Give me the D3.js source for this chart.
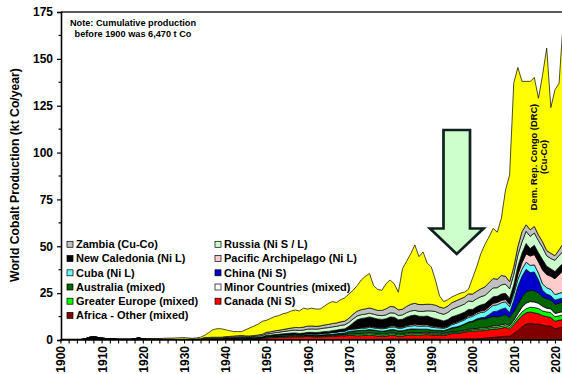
<!DOCTYPE html>
<html><head><meta charset="utf-8">
<script src="https://cdn.jsdelivr.net/npm/d3@7"></script>
<style>
html,body{margin:0;padding:0;background:#fff;}
svg{display:block;font-family:Arial,"Liberation Sans",sans-serif;}
</style></head><body>
<svg id="chart" width="562" height="374"></svg>
<script>
// World cobalt production by country / region, kt Co per year, 1900-2022
const years = d3.range(1900, 2023);

const africaOther = [
 0,0,0,0,0,0,0,0,0,0,
 0,0,0,0,0,0,0,0,0,0,
 0,0,0,0,0,0,0,0,0,0,
 0,0,0,0,0,0,0,0,0,0,
 0,0,0,0,0,0,0,0,0,0,
 .2,.2,.2,.2,.2,.2,.2,.2,.2,.2,
 .3,.3,.3,.3,.3,.3,.3,.3,.3,.3,
 .4,.4,.4,.4,.4,.4,.4,.4,.4,.4,
 .5,.5,.5,.5,.5,.5,.5,.5,.5,.5,
 .5,.5,.5,.4,.4,.5,.5,.6,.6,.7,
 .6,.7,.8,1.0,1.2,1.4,1.6,1.8,2.0,2.0,
 3.5,5.0,7.0,8.5,9.0,8.5,8.5,8.0,7.5,7.5,6.0,6.5,7.0];

const canada = [
 0,0,0,0,0,0,0,.3,.5,.6,
 .5,.4,.4,.3,.2,.2,.2,.2,.2,.2,
 .2,.2,.2,.2,.2,.2,.2,.2,.2,.2,
 .3,.3,.3,.3,.3,.3,.3,.3,.3,.3,
 .5,.5,.5,.5,.5,.4,.4,.5,.6,.8,
 .9,1.0,1.1,1.2,1.3,1.4,1.5,1.6,1.5,1.6,
 1.6,1.5,1.4,1.4,1.5,1.6,1.7,1.8,2.0,1.9,
 2.1,2.0,1.8,1.9,2.0,2.2,2.0,1.7,1.5,1.6,
 2.1,2.0,1.5,1.6,2.0,2.3,2.2,2.1,2.3,2.4,
 2.2,2.2,2.2,2.0,2.5,3.0,3.0,3.1,3.5,4.0,
 4.0,4.2,4.2,4.0,4.3,4.5,4.3,4.5,4.8,3.8,
 4.5,5.5,6.0,6.0,6.0,6.0,5.5,5.0,5.0,4.5,4.0,4.0,4.0];

const greaterEurope = [
 0,0,0,0,0,0,0,0,0,0,
 0,0,0,0,0,0,0,0,.2,.8,
 .2,.1,.1,.1,.1,.1,.1,.1,.1,.1,
 .1,.1,.1,.1,.1,.2,.2,.2,.2,.2,
 .2,.2,.2,.2,.2,.2,.2,.2,.2,.2,
 .4,.4,.4,.4,.4,.4,.4,.4,.4,.4,
 .4,.4,.4,.4,.4,.4,.4,.4,.4,.4,
 .6,.7,.8,.8,.8,.8,.8,.8,.8,.8,
 .8,.8,.8,.8,.8,.8,.8,.8,.8,.8,
 .6,.6,.6,.6,.6,.6,.6,.6,.6,.6,
 .8,.8,.9,.9,.9,1.0,1.0,1.0,1.0,1.0,
 1.3,1.8,2.0,2.2,2.5,2.8,2.8,2.5,2.5,2.6,2.4,2.4,2.5];

const minorCountries = [
 0,0,0,0,0,0,0,0,0,0,
 0,0,0,0,0,0,0,0,0,0,
 0,0,0,0,0,0,0,0,0,0,
 0,0,0,0,0,.3,.3,.3,.3,.3,
 .3,.3,.3,.3,.3,.3,.3,.3,.3,.3,
 .3,.3,.3,.3,.3,.3,.3,.3,.3,.3,
 .3,.3,.3,.3,.3,.3,.3,.3,.3,.3,
 .5,.5,.5,.5,.5,.5,.5,.5,.5,.5,
 .5,.5,.5,.5,.5,.5,.5,.5,.5,.5,
 .5,.5,.5,.5,.5,.5,.5,.5,.5,.5,
 .5,.5,.6,.6,.6,.7,.7,.8,.8,.8,
 1.2,1.8,2.5,3.0,3.0,3.0,2.8,2.5,2.0,2.0,1.8,1.8,1.8];

const australia = [
 0,0,0,0,0,0,0,0,0,0,
 0,0,0,0,0,0,0,0,0,0,
 0,0,0,0,0,0,0,0,0,0,
 0,0,0,0,0,0,0,0,0,0,
 0,0,0,0,0,0,0,0,0,0,
 .1,.1,.1,.1,.1,.1,.1,.1,.1,.1,
 .2,.2,.2,.3,.3,.3,.4,.5,.6,.8,
 1.0,1.2,1.5,1.6,1.5,1.6,1.5,1.5,1.4,1.5,
 1.5,1.6,1.5,1.4,1.6,1.7,1.8,1.8,1.6,1.5,
 1.4,1.2,1.2,1.3,1.5,1.7,2.0,2.5,3.0,3.5,
 3.8,4.5,4.8,4.8,5.0,5.0,4.8,4.8,5.0,4.5,
 4.5,5.0,5.5,6.0,6.0,6.0,5.5,5.0,5.0,4.8,4.8,5.0,5.0];

const china = [
 0,0,0,0,0,0,0,0,0,0,
 0,0,0,0,0,0,0,0,0,0,
 0,0,0,0,0,0,0,0,0,0,
 0,0,0,0,0,0,0,0,0,0,
 0,0,0,0,0,0,0,0,0,0,
 0,0,0,0,0,0,0,0,0,0,
 0,0,0,0,0,0,0,0,0,0,
 0,0,0,0,0,.1,.1,.1,.1,.1,
 .1,.1,.1,.1,.1,.1,.1,.1,.1,.1,
 .2,.2,.2,.2,.2,.3,.3,.3,.3,.3,
 .4,.5,.6,.8,1.5,2.5,3.0,3.5,3.5,2.5,
 6.0,9.5,11.0,12.0,9.5,10.0,7.0,3.5,2.5,2.2,2.2,2.2,2.2];

const cuba = [
 0,0,0,0,0,0,0,0,0,0,
 0,0,0,0,0,0,0,0,0,0,
 0,0,0,0,0,0,0,0,0,0,
 0,0,0,0,0,0,0,0,0,0,
 0,0,0,.2,.3,.3,.2,.2,.2,.2,
 .3,.3,.4,.5,.5,.6,.6,.6,.5,.5,
 .6,.6,.6,.7,.8,.8,.9,.9,1.0,1.0,
 1.0,1.0,1.0,1.1,1.1,1.2,1.2,1.2,1.3,1.3,
 1.4,1.5,1.4,1.5,1.6,1.6,1.8,1.6,1.6,1.7,
 1.5,1.4,1.3,1.2,1.2,1.6,2.0,2.2,2.2,2.5,
 2.5,2.7,2.8,2.9,3.2,3.4,3.4,3.5,3.3,3.2,
 3.5,3.8,3.8,3.8,3.8,3.8,3.6,3.4,3.4,3.4,3.0,3.0,3.0];

const pacificArchipelago = [
 0,0,0,0,0,0,0,0,0,0,
 0,0,0,0,0,0,0,0,0,0,
 0,0,0,0,0,0,0,0,0,0,
 0,0,0,0,0,0,0,0,0,0,
 0,0,0,0,0,0,0,0,0,0,
 0,0,0,0,0,0,0,0,0,0,
 .1,.1,.1,.1,.1,.1,.1,.1,.1,.1,
 .2,.3,.3,.4,.5,.5,.5,.5,.5,.5,
 .6,.6,.5,.5,.6,.7,.8,.8,.7,.7,
 .6,.6,.5,.5,.5,.6,.6,.6,.6,.7,
 .7,.8,.8,.9,1.0,1.1,1.2,1.2,1.2,1.3,
 1.5,2.5,3.5,4.5,5.0,5.5,6.0,7.5,7.0,7.0,8.5,10.0,11.5];

const newCaledonia = [
 .3,.3,.3,.3,.3,.3,.6,1.1,1.2,.8,
 .5,.4,.3,.3,.2,.2,.2,.2,.2,.2,
 .1,.1,.1,.1,.1,.1,.1,.1,.1,.1,
 .1,.1,.1,.1,.1,.2,.2,.2,.2,.2,
 .2,.2,.2,.2,.2,.2,.2,.2,.2,.2,
 .3,.3,.4,.4,.5,.5,.6,.6,.5,.6,
 .6,.7,.7,.7,.8,.8,.9,1.0,1.0,1.2,
 1.5,3.0,4.5,4.8,5.0,5.0,4.8,4.5,4.5,4.6,
 4.8,4.5,4.0,4.2,4.5,4.8,4.8,4.5,4.5,4.6,
 4.5,4.2,3.8,3.5,3.5,3.6,3.6,3.5,3.5,3.5,
 3.0,3.0,3.2,3.4,3.5,3.5,3.3,3.5,3.3,3.2,
 3.5,4.5,5.0,5.5,4.0,5.0,4.8,5.5,4.5,4.0,3.8,4.0,4.0];

const russia = [
 0,0,0,0,0,0,0,0,0,0,
 0,0,0,0,0,0,0,0,0,0,
 0,0,0,0,0,0,0,0,0,0,
 0,0,0,0,0,0,0,0,0,0,
 .1,.2,.3,.3,.3,.3,.4,.5,.6,.7,
 .8,.9,1.0,1.1,1.2,1.3,1.4,1.5,1.6,1.6,
 1.7,1.8,1.8,1.8,1.9,2.0,2.0,2.0,2.1,2.1,
 2.1,2.1,2.0,2.0,2.0,2.0,2.0,2.0,2.0,2.1,
 2.2,2.3,2.3,2.3,2.4,2.5,2.5,2.6,2.7,2.8,
 3.5,3.8,3.5,3.5,3.8,4.0,4.2,4.3,4.3,4.5,
 4.2,4.3,4.4,4.5,4.6,4.7,4.6,4.8,4.9,5.0,
 5.5,6.0,6.0,6.5,6.5,6.5,6.5,6.5,5.5,5.5,6.0,6.2,6.5];

const zambia = [
 0,0,0,0,0,0,0,0,0,0,
 0,0,0,0,0,0,0,0,0,0,
 0,0,0,0,0,0,0,0,0,0,
 0,0,0,.1,.2,.3,.4,.5,.5,.5,
 .5,.5,.6,.6,.6,.5,.5,.5,.6,.7,
 .8,.9,1.0,1.0,1.1,1.2,1.3,1.4,1.5,1.6,
 1.6,1.6,1.5,1.5,1.6,1.7,1.8,1.8,1.9,2.0,
 2.2,2.5,2.6,2.7,2.8,2.8,2.7,2.6,2.8,3.2,
 3.4,3.3,3.0,3.0,3.3,3.6,3.8,3.6,3.6,3.5,
 3.5,3.4,3.3,3.3,3.4,3.5,3.6,3.7,3.7,3.8,
 4.0,4.0,4.2,4.5,4.8,5.0,4.5,5.0,4.2,3.8,
 4.0,4.5,5.5,3.5,3.5,3.5,3.0,3.0,2.8,2.8,2.5,3.0,4.0];

const drc = [
 0,0,0,0,0,0,0,0,0,0,
 0,0,0,0,0,0,0,0,0,0,
 .1,.2,.3,.3,.4,.5,.6,.6,.7,.8,
 .8,.6,.4,.5,.8,1.2,2.6,4.0,4.5,4.5,
 3.7,3.1,2.4,2.2,2.1,3.3,4.3,5.1,5.8,6.9,
 6.4,7.1,7.6,7.8,8.4,8.5,9.1,9.3,8.9,10.1,
 9.1,9.5,9.2,9.0,10.0,11.2,11.7,10.9,11.8,12.4,
 12.9,12.8,13.6,15.8,17.4,18.4,12.5,11.2,10.7,13.4,
 14.1,12.3,9.4,21.6,24.1,26.9,31.1,25.6,28.1,21.9,
 20.0,13.4,5.9,3.5,3.4,3.1,3.1,3.1,2.7,2.4,
 8.5,13.0,18.7,22.7,24.4,26.7,25.1,30.6,46.0,56.9,
 98.0,95.5,80.2,76.5,79.2,79.4,73.0,89.1,108.0,77.7,88.5,88.9,118.5];

// Layers from the bottom of the stack upwards
const layers = [
  {key: "africaOther",  label: "Africa - Other (mixed)",       color: "#800000", values: africaOther},
  {key: "canada",       label: "Canada (Ni S)",                color: "#ff0000", values: canada},
  {key: "greaterEurope",label: "Greater Europe (mixed)",       color: "#00ff00", values: greaterEurope},
  {key: "minor",        label: "Minor Countries (mixed)",      color: "#ffffff", values: minorCountries},
  {key: "australia",    label: "Australia (mixed)",            color: "#006600", values: australia},
  {key: "china",        label: "China (Ni S)",                 color: "#0000cc", values: china},
  {key: "cuba",         label: "Cuba (Ni L)",                  color: "#66ffff", values: cuba},
  {key: "pacific",      label: "Pacific Archipelago (Ni L)",   color: "#ffcccc", values: pacificArchipelago},
  {key: "newCaledonia", label: "New Caledonia (Ni L)",         color: "#000000", values: newCaledonia},
  {key: "russia",       label: "Russia (Ni S / L)",            color: "#ccffcc", values: russia},
  {key: "zambia",       label: "Zambia (Cu-Co)",               color: "#c0c0c0", values: zambia},
  {key: "drc",          label: "Dem. Rep. Congo (DRC)",        color: "#ffff00", values: drc}
];

// Legend reading order (two columns, row by row)
const legendOrder = ["zambia","russia","newCaledonia","pacific","cuba","china",
                     "australia","minor","greaterEurope","canada","africaOther"];

const yTickValues = [0,25,50,75,100,125,150,175];
const xLabelYears = [1900,1910,1920,1930,1940,1950,1960,1970,1980,1990,2000,2010,2020];

const svg = d3.select("#chart");
const plotLeft = 61, plotTop = 12, plotBottom = 340;

const x = d3.scaleLinear().domain([1900, 2022]).range([60.4, 563.2]);
const y = d3.scaleLinear().domain([0, 175]).range([plotBottom, plotTop]);

const rows = years.map((yr, i) => {
  const r = {year: yr};
  layers.forEach(l => r[l.key] = l.values[i]);
  return r;
});
const stacked = d3.stack().keys(layers.map(l => l.key))(rows);
const colorOf = Object.fromEntries(layers.map(l => [l.key, l.color]));
const labelOf = Object.fromEntries(layers.map(l => [l.key, l.label]));

svg.append("clipPath").attr("id","plotClip")
  .append("rect").attr("x", plotLeft).attr("y", plotTop).attr("width", 600).attr("height", plotBottom - plotTop);

const area = d3.area()
  .x(d => x(d.data.year))
  .y0(d => y(d[0]))
  .y1(d => y(d[1]));

svg.append("g").attr("clip-path","url(#plotClip)")
  .selectAll("path").data(stacked).join("path")
  .attr("d", area)
  .attr("fill", d => colorOf[d.key])
  .attr("stroke", "#000")
  .attr("stroke-width", 0.7)
  .attr("stroke-linejoin", "round");

// frame: top border
svg.append("line").attr("x1", plotLeft).attr("x2", 562).attr("y1", plotTop).attr("y2", plotTop)
  .attr("stroke", "#222").attr("stroke-width", 1.3);

// Y axis
const yAxis = d3.axisLeft(y).tickValues(yTickValues).tickSize(4).tickPadding(4);
const gy = svg.append("g").attr("transform", `translate(${plotLeft},0)`).call(yAxis);
gy.select(".domain").attr("stroke", "#000").attr("stroke-width", 1.6);
gy.selectAll(".tick line").attr("stroke", "#000").attr("stroke-width", 1.2);
gy.selectAll(".tick text").attr("font-size", 12).attr("font-weight", "bold")
  .attr("font-family", "Arial, 'Liberation Sans', sans-serif").attr("fill", "#000");
const minorY = d3.range(0, yTickValues.length - 1).map(i => (yTickValues[i] + yTickValues[i + 1]) / 2);
svg.append("g").selectAll("line").data(minorY).join("line")
  .attr("x1", plotLeft - 2.5).attr("x2", plotLeft).attr("y1", d => y(d)).attr("y2", d => y(d))
  .attr("stroke", "#000").attr("stroke-width", 1.2);

// X axis
const xTickYears = d3.range(1900, 2023, 2);
const xAxis = d3.axisBottom(x).tickValues(xTickYears).tickSize(3.5).tickFormat("");
const gx = svg.append("g").attr("transform", `translate(0,${plotBottom})`).call(xAxis);
gx.select(".domain").remove();
gx.selectAll(".tick line").attr("stroke", "#000").attr("stroke-width", 1.1);
svg.append("line").attr("x1", plotLeft - 1).attr("x2", 562).attr("y1", plotBottom).attr("y2", plotBottom)
  .attr("stroke", "#000").attr("stroke-width", 1.6);

svg.append("g").selectAll("text").data(xLabelYears).join("text")
  .attr("transform", d => `translate(${x(d) + 0.6},${plotBottom + 6}) rotate(-90)`)
  .attr("text-anchor", "end").attr("dy", "0.36em")
  .attr("font-size", 12).attr("font-weight", "bold").text(d => d);

// Y axis title
svg.append("text")
  .attr("transform", "translate(18.5,175) rotate(-90)")
  .attr("text-anchor", "middle")
  .attr("font-size", 12.2).attr("font-weight", "bold")
  .text("World Cobalt Production (kt Co/year)");

// Note
const note = svg.append("text").attr("font-size", 9.2).attr("font-weight", "bold").attr("text-anchor", "middle");
note.append("tspan").attr("x", 133).attr("y", 26).text("Note: Cumulative production");
note.append("tspan").attr("x", 133).attr("y", 36.5).text("before 1900 was 6,470 t Co");

// Legend
const legCols = [67, 215], legRows = [244.3, 258.5, 272.8, 287, 301.2, 315.4];
const leg = svg.append("g").selectAll("g").data(legendOrder).join("g")
  .attr("transform", (d, i) => `translate(${legCols[i % 2]},${legRows[Math.floor(i / 2)]})`);
leg.append("rect").attr("x", 0).attr("y", -3).attr("width", 6).attr("height", 6)
  .attr("fill", d => colorOf[d]).attr("stroke", "#000").attr("stroke-width", 0.7);
leg.append("text").attr("x", 9).attr("dy", "0.36em")
  .attr("font-size", 11).attr("font-weight", "bold").text(d => labelOf[d]);

// DRC label inside its area
const drcLabel = svg.append("text").attr("transform", "translate(536.5,157) rotate(-90)")
  .attr("text-anchor", "middle").attr("font-size", 9.3).attr("font-weight", "bold");
drcLabel.append("tspan").attr("x", 0).attr("y", 0).text("Dem. Rep. Congo (DRC)");
drcLabel.append("tspan").attr("x", 0).attr("y", 10).text("(Cu-Co)");

// Downward arrow marking the 1990s decline
const arrowPts = [[443.5,130],[470,130],[470,228.5],[483.5,228.5],[456.7,254],[430,228.5],[443.5,228.5]];
svg.append("polygon").attr("points", arrowPts.map(p => p.join(",")).join(" "))
  .attr("fill", "#ccffcc").attr("stroke", "#102020").attr("stroke-width", 2.7)
  .attr("stroke-linejoin", "miter");
</script>
</body></html>
